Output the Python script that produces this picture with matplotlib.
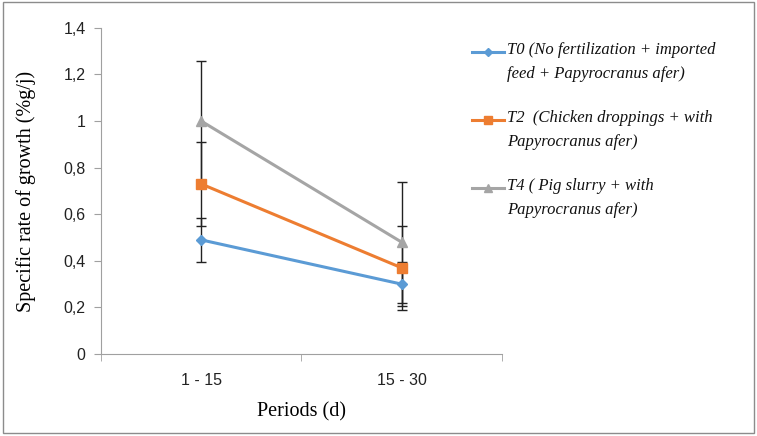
import matplotlib
matplotlib.use("Agg")
import matplotlib.pyplot as plt
from matplotlib.lines import Line2D
from matplotlib.patches import Rectangle
from matplotlib.ticker import FuncFormatter

periods = ["1 - 15", "15 - 30"]
labels = ["T0 (No fertilization + imported\nfeed + Papyrocranus afer)",
          "T2  (Chicken droppings + with\nPapyrocranus afer)",
          "T4 ( Pig slurry + with\nPapyrocranus afer)"]
t0 = [0.49, 0.30]
t2 = [0.73, 0.37]
t4 = [1.00, 0.48]
t0_err = [0.095, 0.095]
t2_err = [0.18, 0.18]
t4_err = [0.26, 0.26]

series = [t0, t2, t4]
errors = [t0_err, t2_err, t4_err]
colors = ["#5B9BD5", "#ED7D31", "#A5A5A5"]
markers = ["D", "s", "^"]
msizes = [5, 7, 7]

fig = plt.figure(figsize=(7.57, 4.36), dpi=100)
ax = fig.add_axes([0.1334, 0.188, 0.5297, 0.748])

x = range(len(periods))
for vals, err in zip(series, errors):
    ax.errorbar(x, vals, yerr=err, fmt="none", ecolor="#222222", elinewidth=1,
                capsize=3.5, capthick=1, zorder=2)
for vals, c, m, ms in zip(series, colors, markers, msizes):
    ax.plot(x, vals, color=c, lw=2.2, marker=m, markersize=ms, zorder=3)

ax.set_xlim(-0.5, 1.5)
ax.set_ylim(0, 1.4)
ax.set_yticks([i * 0.2 for i in range(8)])
ax.yaxis.set_major_formatter(FuncFormatter(lambda v, p: f"{v:.1f}".rstrip("0").rstrip(".").replace(".", ",")))
ax.set_xticks(list(x))
ax.set_xticklabels(periods)
ax.set_xticks([-0.5, 0.5, 1.5], minor=True)
ax.tick_params(axis="x", which="major", length=0, pad=14, labelsize=11.5)
ax.tick_params(axis="x", which="minor", length=5, color="#A0A0A0", direction="out")
ax.tick_params(axis="y", length=5, color="#A0A0A0", labelsize=11.5, pad=6)
for lab in ax.get_xticklabels() + ax.get_yticklabels():
    lab.set_family("Liberation Sans")
    lab.set_color("#222222")
for s in ["top", "right"]:
    ax.spines[s].set_visible(False)
for s in ["left", "bottom"]:
    ax.spines[s].set_color("#A0A0A0")
ax.set_ylabel("Specific rate of growth (%g/j)", family="Liberation Serif", fontsize=14.5, labelpad=20)
ax.set_xlabel("Periods (d)", family="Liberation Serif", fontsize=14.5, labelpad=10)

# legend drawn on the figure, handle beside first text line
y0 = 1 - 52 / 436
step = 68 / 436
for i, (lab, c, m, ms) in enumerate(zip(labels, colors, markers, msizes)):
    yy = y0 - i * step
    fig.add_artist(Line2D([472 / 757, 504 / 757], [yy, yy], color=c, lw=2.2,
                          transform=fig.transFigure))
    fig.add_artist(Line2D([488 / 757], [yy], color=c, marker=m, markersize=ms - 1,
                          transform=fig.transFigure))
    fig.text(507 / 757, yy + 10 / 436, lab, family="Liberation Serif", style="italic",
             fontsize=12, va="top", ha="left", linespacing=1.7, color="#111111")

fig.add_artist(Rectangle((0.004, 0.006), 0.992, 0.99, fill=False, ec="#8c8c8c",
                         lw=1, transform=fig.transFigure))

fig.savefig("out.png", dpi=100)
